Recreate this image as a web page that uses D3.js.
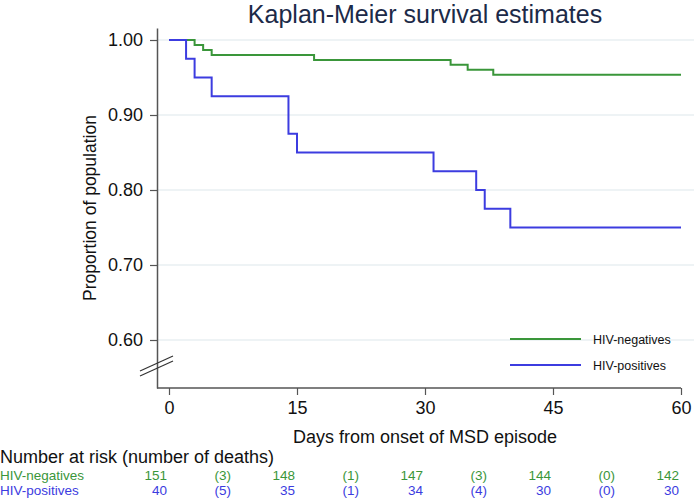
<!DOCTYPE html>
<html><head><meta charset="utf-8">
<script src="https://cdn.jsdelivr.net/npm/d3@7"></script>
<style>
body{margin:0;background:#fff;}
svg{display:block;font-family:"Liberation Sans",Arial,Helvetica,sans-serif;}
</style></head>
<body>
<svg id="chart" width="694" height="498"></svg>
<script>
// ---- data ----
const negTimes = [0, 3, 4, 5, 17, 33, 35, 38, 60];
const negSurv  = [1.0, 0.9934, 0.9868, 0.9801, 0.9735, 0.9669, 0.9603, 0.9536, 0.9536];
const posTimes = [0, 2, 3, 5, 14, 15, 31, 36, 37, 40, 60];
const posSurv  = [1.0, 0.975, 0.95, 0.925, 0.875, 0.85, 0.825, 0.80, 0.775, 0.75, 0.75];
const yTicks = [0.60, 0.70, 0.80, 0.90, 1.00];
const xTicks = [0, 15, 30, 45, 60];
const riskTimes = [0, 7.5, 15, 22.5, 30, 37.5, 45, 52.5, 60];
const riskNeg = ["151", "(3)", "148", "(1)", "147", "(3)", "144", "(0)", "142"];
const riskPos = ["40", "(5)", "35", "(1)", "34", "(4)", "30", "(0)", "30"];
const seriesNames = ["HIV-negatives", "HIV-positives"];

const green = "#3a963a", blue = "#3c3ce0";
const svg = d3.select("#chart");

const x = d3.scaleLinear().domain([0, 60]).range([169, 681]);
const y = d3.scaleLinear().domain([0.536, 1.016]).range([388, 28]);

// gridlines
svg.append("g").selectAll("line").data(yTicks).join("line")
  .attr("x1", 157).attr("x2", 694)
  .attr("y1", d => y(d)).attr("y2", d => y(d))
  .attr("stroke", "#e9eff2").attr("stroke-width", 1.5);

// title
svg.append("text").attr("x", 425).attr("y", 23).attr("text-anchor", "middle")
  .attr("font-size", 25).attr("fill", "#1c2a48").text("Kaplan-Meier survival estimates");

// y axis
const yAxis = svg.append("g").attr("transform", "translate(157,0)")
  .call(d3.axisLeft(y).tickValues(yTicks).tickFormat(d3.format(".2f")).tickSize(7).tickPadding(7).tickSizeOuter(0));
yAxis.select(".domain").attr("stroke", "#555").attr("stroke-width", 1.5);
yAxis.selectAll(".tick line").attr("stroke", "#555").attr("stroke-width", 1.2);
yAxis.selectAll("text").attr("font-size", 18).attr("fill", "#111").attr("font-family", "Liberation Sans, Arial, sans-serif");

// x axis
const xAxis = svg.append("g").attr("transform", "translate(0,388)")
  .call(d3.axisBottom(x).tickValues(xTicks).tickSize(7).tickPadding(6).tickSizeOuter(0));
xAxis.select(".domain").attr("d", "M157,0H681").attr("stroke", "#555").attr("stroke-width", 1.5);
xAxis.selectAll(".tick line").attr("stroke", "#555").attr("stroke-width", 1.2);
xAxis.selectAll("text").attr("font-size", 18).attr("fill", "#111").attr("font-family", "Liberation Sans, Arial, sans-serif");

// axis break marks
svg.append("line").attr("x1", 140).attr("y1", 371).attr("x2", 173).attr("y2", 356).attr("stroke", "#333").attr("stroke-width", 1.2);
svg.append("line").attr("x1", 140).attr("y1", 376).attr("x2", 173).attr("y2", 361).attr("stroke", "#333").attr("stroke-width", 1.2);

// axis titles
svg.append("text").attr("transform", "translate(96,208) rotate(-90)").attr("text-anchor", "middle")
  .attr("font-size", 17.5).attr("fill", "#111").text("Proportion of population");
svg.append("text").attr("x", 425).attr("y", 443).attr("text-anchor", "middle")
  .attr("font-size", 18).attr("fill", "#111").text("Days from onset of MSD episode");

// curves
const stepLine = d3.line().x(d => x(d[0])).y(d => y(d[1])).curve(d3.curveStepAfter);
svg.append("path").datum(negTimes.map((t, i) => [t, negSurv[i]]))
  .attr("d", stepLine).attr("fill", "none").attr("stroke", green).attr("stroke-width", 2);
svg.append("path").datum(posTimes.map((t, i) => [t, posSurv[i]]))
  .attr("d", stepLine).attr("fill", "none").attr("stroke", blue).attr("stroke-width", 2);

// legend
const legend = svg.append("g");
[[green, 339], [blue, 365]].forEach(([c, ly], i) => {
  legend.append("line").attr("x1", 510).attr("x2", 581).attr("y1", ly).attr("y2", ly)
    .attr("stroke", c).attr("stroke-width", 2);
  legend.append("text").attr("x", 593).attr("y", ly + 5).attr("font-size", 12.5)
    .attr("fill", "#111").text(seriesNames[i]);
});

// risk table
svg.append("text").attr("x", 0).attr("y", 463).attr("font-size", 18)
  .attr("fill", "#111").text("Number at risk (number of deaths)");
[[riskNeg, green, 480], [riskPos, blue, 495]].forEach(([vals, c, ry], i) => {
  svg.append("text").attr("x", 0).attr("y", ry).attr("font-size", 13.5)
    .attr("fill", c).text(seriesNames[i]);
  svg.append("g").selectAll("text").data(vals).join("text")
    .attr("x", (d, j) => x(riskTimes[j]) - 2).attr("y", ry)
    .attr("text-anchor", "end").attr("font-size", 13.5)
    .attr("fill", c).text(d => d);
});
</script>
</body></html>
